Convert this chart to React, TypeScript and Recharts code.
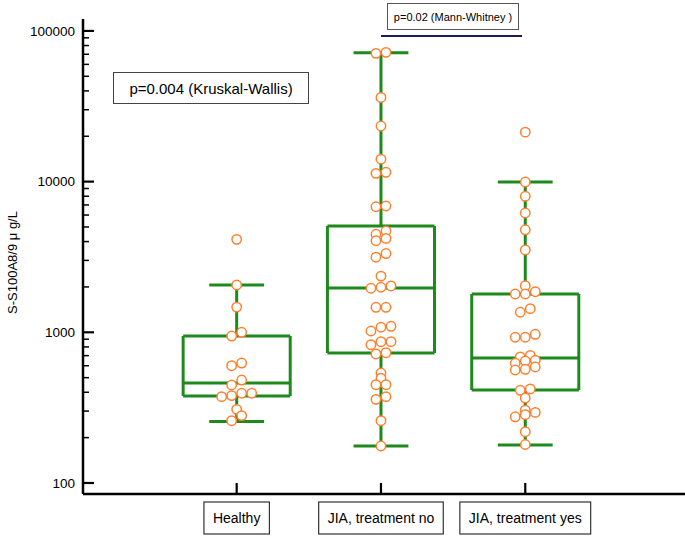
import { ComposedChart, XAxis, YAxis, Scatter, ReferenceLine } from "recharts";

const groups = ["Healthy", "JIA, treatment no", "JIA, treatment yes"];
const groupPos = [1, 2, 3];

// box statistics
const whiskerLow = [256, 176, 179];
const q1 = [378, 729, 414];
const median = [461, 1967, 675];
const q3 = [945, 5075, 1795];
const whiskerHigh = [2060, 71700, 9940];

// individual measurements; jitter is in small horizontal steps
const healthyValues = [4140, 2060, 1470, 944, 1000, 600, 625, 482, 447, 374, 380, 394, 394, 308, 280, 259];
const healthyJitter = [0, 0, 0, -1, 1, -1, 1, 1, -1, -3, -1, 1, 3, 0, 1, -1];

const noTreatValues = [
  71000, 72100, 36200, 23400, 14100, 11350, 11530, 6810, 6890, 4470, 4700, 4050, 4200, 3150, 3330,
  2360, 1960, 1990, 2030, 1465, 1465, 1020, 1080, 1096, 827, 867, 867, 718, 732, 537, 495, 449, 449,
  359, 374, 259, 176,
];
const noTreatJitter = [
  -1, 1, 0, 0, 0, -1, 1, -1, 1, -1, 1, -1, 1, -1, 1, 0, -2, 0, 2, -1, 1, -2, 0, 2, -2, 0, 2, -1, 1, 0,
  0, -1, 1, -1, 1, 0, 0,
];

const treatValues = [
  21300, 9940, 7990, 6190, 4790, 3520, 2040, 1795, 1795, 1860, 1358, 1435, 927, 927, 970, 686, 703,
  623, 645, 652, 562, 568, 589, 412, 421, 366, 304, 275, 284, 294, 219, 180,
];
const treatJitter = [
  0, 0, 0, 0, 0, 0, 0, -2, 0, 2, -1, 1, -2, 0, 2, -1, 1, -2, 0, 2, -2, 0, 2, -1, 1, 0, 0, -2, 0, 2, 0, 0,
];

const majorTicks = [100, 1000, 10000, 100000];

const GREEN = "#1e8a1e";
const ORANGE = "#ff7f2a";
const FONT = "'Liberation Sans', Arial, sans-serif";
const JITTER_STEP = 0.0347;
const BOX_HALF = 0.371;
const CAP_HALF = 0.19;

const allTicks = majorTicks.flatMap((m, i) =>
  i < majorTicks.length - 1 ? [1, 2, 3, 4, 5, 6, 7, 8, 9].map((k) => k * m) : [m]
);

const series = [
  { values: healthyValues, jitter: healthyJitter },
  { values: noTreatValues, jitter: noTreatJitter },
  { values: treatValues, jitter: treatJitter },
];

const points = series.flatMap((s, g) =>
  s.values.map((v, i) => ({ x: groupPos[g] + s.jitter[i] * JITTER_STEP, y: v }))
);

type Seg = [{ x: number; y: number }, { x: number; y: number }];

const segments: Seg[] = groupPos.flatMap((c, g) => {
  const l = c - BOX_HALF;
  const r = c + BOX_HALF;
  return [
    [{ x: l, y: q1[g] }, { x: r, y: q1[g] }],
    [{ x: l, y: q3[g] }, { x: r, y: q3[g] }],
    [{ x: l, y: q1[g] }, { x: l, y: q3[g] }],
    [{ x: r, y: q1[g] }, { x: r, y: q3[g] }],
    [{ x: l, y: median[g] }, { x: r, y: median[g] }],
    [{ x: c, y: q1[g] }, { x: c, y: whiskerLow[g] }],
    [{ x: c, y: q3[g] }, { x: c, y: whiskerHigh[g] }],
    [{ x: c - CAP_HALF, y: whiskerLow[g] }, { x: c + CAP_HALF, y: whiskerLow[g] }],
    [{ x: c - CAP_HALF, y: whiskerHigh[g] }, { x: c + CAP_HALF, y: whiskerHigh[g] }],
  ] as Seg[];
});

let canvasCtx: CanvasRenderingContext2D | null = null;
function textWidth(text: string, font: string) {
  if (!canvasCtx) canvasCtx = document.createElement("canvas").getContext("2d");
  if (!canvasCtx) return text.length * 7;
  canvasCtx.font = font;
  return canvasCtx.measureText(text).width;
}

function YTick(props: any) {
  const { x, y, payload } = props;
  const v = payload.value;
  const major = majorTicks.includes(v);
  return (
    <g>
      <line x1={x} x2={x + (major ? 11 : 6)} y1={y} y2={y} stroke="#000" strokeWidth={major ? 2.2 : 1.5} />
      {major && (
        <text x={x - 8} y={y} dy="0.35em" textAnchor="end" fontSize={13.5} fill="#000" fontFamily={FONT}>
          {v}
        </text>
      )}
    </g>
  );
}

function XTick(props: any) {
  const { x, y, payload } = props;
  const label = groups[groupPos.indexOf(payload.value)] ?? "";
  const w = textWidth(label, `14px ${FONT}`) + 18;
  return (
    <g>
      <line x1={x} x2={x} y1={y} y2={y - 11} stroke="#000" strokeWidth={2.2} />
      <rect x={x - w / 2} y={y + 8} width={w} height={32} fill="#fff" stroke="#333" strokeWidth={1.2} />
      <text x={x} y={y + 24} dy="0.35em" textAnchor="middle" fontSize={14} fill="#000" fontFamily={FONT}>
        {label}
      </text>
    </g>
  );
}

function Dot(props: any) {
  const { cx, cy } = props;
  return <circle cx={cx} cy={cy} r={4.7} fill="#fff" stroke={ORANGE} strokeWidth={1.5} />;
}

export default function App() {
  return (
    <div style={{ position: "relative", width: 685, height: 538, fontFamily: FONT, background: "#fff" }}>
      <style>{`body{margin:0}`}</style>
      <ComposedChart width={685} height={538} margin={{ top: 19, right: 0, bottom: 0, left: 0 }}>
        <XAxis
          type="number"
          dataKey="x"
          domain={[-0.065, 4.107]}
          allowDataOverflow
          ticks={groupPos}
          interval={0}
          height={44}
          tickSize={0}
          tickMargin={0}
          tickLine={false}
          axisLine={{ stroke: "#000", strokeWidth: 2.5 }}
          tick={<XTick />}
        />
        <YAxis
          type="number"
          dataKey="y"
          scale="log"
          domain={[84.5, 120000]}
          allowDataOverflow
          ticks={allTicks}
          interval={0}
          width={83}
          tickSize={0}
          tickMargin={0}
          tickLine={false}
          axisLine={{ stroke: "#000", strokeWidth: 2.5 }}
          tick={<YTick />}
          label={{
            value: "S-S100A8/9 μ g/L",
            angle: -90,
            position: "insideLeft",
            offset: 12,
            dy: 6,
            style: { fontSize: 13, fill: "#000", fontFamily: FONT, textAnchor: "middle" },
          }}
        />
        {segments.map((s, i) => (
          <ReferenceLine key={i} segment={s} stroke={GREEN} strokeWidth={3} ifOverflow="visible" />
        ))}
        <Scatter data={points} dataKey="y" shape={<Dot />} isAnimationActive={false} />
      </ComposedChart>

      <div
        style={{
          position: "absolute",
          left: 113,
          top: 72,
          width: 194,
          height: 30,
          border: "1px solid #444",
          background: "#fff",
          display: "flex",
          alignItems: "center",
          justifyContent: "center",
          fontSize: 15,
          color: "#000",
        }}
      >
        p=0.004 (Kruskal-Wallis)
      </div>
      <div
        style={{
          position: "absolute",
          left: 387,
          top: 3,
          width: 130,
          height: 25,
          border: "1.5px solid #555",
          background: "#fff",
          display: "flex",
          alignItems: "center",
          justifyContent: "center",
          fontSize: 11,
          color: "#000",
        }}
      >
        p=0.02 (Mann-Whitney )
      </div>
      <div style={{ position: "absolute", left: 381, top: 35, width: 141, height: 2, background: "#1c1c5a" }} />
    </div>
  );
}
